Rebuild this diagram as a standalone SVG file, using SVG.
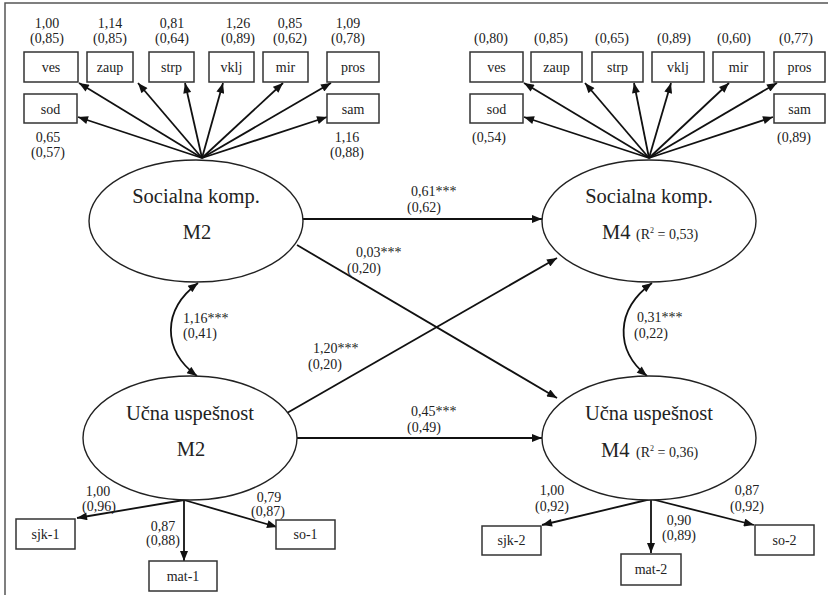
<svg xmlns="http://www.w3.org/2000/svg" width="828" height="595" viewBox="0 0 828 595">
<defs>
<marker id="ah" viewBox="0 0 10 8" refX="10" refY="4" markerWidth="11" markerHeight="8" orient="auto-start-reverse" markerUnits="userSpaceOnUse">
<path d="M0,0 L10,4 L0,8 z" fill="#111"/>
</marker>
<style>
.box{fill:#fff;stroke:#333;stroke-width:1.5}
.ell{fill:#fff;stroke:#222;stroke-width:1.4}
.con{fill:none;stroke:#111;stroke-width:1.8;marker-end:url(#ah)}
.bi{fill:none;stroke:#111;stroke-width:1.8;marker-end:url(#ah);marker-start:url(#ah)}
text{font-family:"Liberation Serif","Times New Roman",serif;fill:#222}
.lb{font-size:14px;text-anchor:middle}
.ls{font-size:14px}
.big{font-size:20.5px;text-anchor:middle}
.bigs{font-size:20.5px}
.frame{stroke:#555;stroke-width:1.5;fill:none}
</style>
</defs>
<rect width="828" height="595" fill="#fff"/>
<path class="frame" d="M5,595 V3 H828"/>

<g id="connectors">
<!-- left fan -->
<line class="con" x1="202" y1="158" x2="79" y2="83"/>
<line class="con" x1="202" y1="158" x2="138" y2="83"/>
<line class="con" x1="202" y1="158" x2="185" y2="83"/>
<line class="con" x1="202" y1="158" x2="223" y2="83"/>
<line class="con" x1="202" y1="158" x2="283" y2="83"/>
<line class="con" x1="202" y1="158" x2="331" y2="83"/>
<line class="con" x1="202" y1="158" x2="78" y2="117"/>
<line class="con" x1="202" y1="158" x2="327" y2="117"/>
<!-- right fan -->
<line class="con" x1="649" y1="158" x2="524" y2="83"/>
<line class="con" x1="649" y1="158" x2="585" y2="83"/>
<line class="con" x1="649" y1="158" x2="634" y2="83"/>
<line class="con" x1="649" y1="158" x2="671" y2="83"/>
<line class="con" x1="649" y1="158" x2="729" y2="83"/>
<line class="con" x1="649" y1="158" x2="777" y2="83"/>
<line class="con" x1="649" y1="158" x2="524" y2="117"/>
<line class="con" x1="649" y1="158" x2="773" y2="117"/>
<!-- structural -->
<line class="con" x1="303" y1="219" x2="542" y2="219"/>
<line class="con" x1="297" y1="245" x2="557" y2="398"/>
<line class="con" x1="287" y1="413" x2="557" y2="258"/>
<line class="con" x1="297" y1="438" x2="542" y2="438"/>
<path class="bi" d="M198,283 C162,310 162,350 197,376"/>
<path class="bi" d="M652,283 C615,310 615,350 647,376"/>
<!-- bottom left -->
<line class="con" x1="184" y1="500" x2="77" y2="518"/>
<line class="con" x1="184" y1="500" x2="184" y2="561"/>
<line class="con" x1="184" y1="500" x2="277" y2="527"/>
<!-- bottom right -->
<line class="con" x1="651" y1="499" x2="542" y2="525"/>
<line class="con" x1="651" y1="499" x2="651" y2="553"/>
<line class="con" x1="651" y1="499" x2="754" y2="525"/>
</g>

<g id="connector-labels">
<text class="lb" x="47" y="28">1,00</text><text class="lb" x="47" y="43">(0,85)</text>
<text class="lb" x="110" y="28">1,14</text><text class="lb" x="110" y="43">(0,85)</text>
<text class="lb" x="172" y="28">0,81</text><text class="lb" x="172" y="43">(0,64)</text>
<text class="lb" x="238" y="28">1,26</text><text class="lb" x="238" y="43">(0,89)</text>
<text class="lb" x="290" y="28">0,85</text><text class="lb" x="290" y="43">(0,62)</text>
<text class="lb" x="348" y="28">1,09</text><text class="lb" x="348" y="43">(0,78)</text>
<text class="lb" x="48" y="142">0,65</text><text class="lb" x="48" y="157">(0,57)</text>
<text class="lb" x="347" y="142">1,16</text><text class="lb" x="347" y="157">(0,88)</text>

<text class="lb" x="491" y="43">(0,80)</text>
<text class="lb" x="551" y="43">(0,85)</text>
<text class="lb" x="612" y="43">(0,65)</text>
<text class="lb" x="674" y="43">(0,89)</text>
<text class="lb" x="734" y="43">(0,60)</text>
<text class="lb" x="796" y="43">(0,77)</text>
<text class="lb" x="489" y="142">(0,54)</text>
<text class="lb" x="794" y="142">(0,89)</text>

<text class="ls" x="411" y="196">0,61***</text><text class="ls" x="407" y="211.5">(0,62)</text>
<text class="ls" x="356" y="257">0,03***</text><text class="ls" x="347" y="273">(0,20)</text>
<text class="ls" x="313" y="353">1,20***</text><text class="ls" x="308" y="369">(0,20)</text>
<text class="ls" x="411" y="416">0,45***</text><text class="ls" x="407" y="432">(0,49)</text>
<text class="ls" x="183" y="323">1,16***</text><text class="ls" x="183" y="338">(0,41)</text>
<text class="ls" x="637" y="322">0,31***</text><text class="ls" x="634" y="338">(0,22)</text>

<text class="lb" x="98" y="496">1,00</text><text class="lb" x="99" y="511">(0,96)</text>
<text class="lb" x="163" y="531">0,87</text><text class="lb" x="163" y="545">(0,88)</text>
<text class="lb" x="269" y="501.5">0,79</text><text class="lb" x="268" y="516">(0,87)</text>
<text class="lb" x="552" y="495">1,00</text><text class="lb" x="552" y="511">(0,92)</text>
<text class="lb" x="679" y="524.5">0,90</text><text class="lb" x="679" y="539.5">(0,89)</text>
<text class="lb" x="747" y="495">0,87</text><text class="lb" x="747" y="511">(0,92)</text>
</g>

<g id="l-ves"><rect class="box" x="24" y="52" width="54" height="30"/><text class="lb" x="51" y="72">ves</text></g>
<g id="l-zaup"><rect class="box" x="87" y="52" width="46" height="30"/><text class="lb" x="110" y="72">zaup</text></g>
<g id="l-strp"><rect class="box" x="149" y="52" width="45" height="30"/><text class="lb" x="171.5" y="72">strp</text></g>
<g id="l-vklj"><rect class="box" x="209" y="52" width="45" height="30"/><text class="lb" x="231.5" y="72">vklj</text></g>
<g id="l-mir"><rect class="box" x="263" y="52" width="45" height="30"/><text class="lb" x="285.5" y="72">mir</text></g>
<g id="l-pros"><rect class="box" x="327" y="52" width="52" height="30"/><text class="lb" x="353" y="72">pros</text></g>
<g id="l-sod"><rect class="box" x="24" y="94" width="53" height="29"/><text class="lb" x="50.5" y="114">sod</text></g>
<g id="l-sam"><rect class="box" x="327" y="94" width="52" height="29"/><text class="lb" x="353" y="114">sam</text></g>

<g id="r-ves"><rect class="box" x="470" y="52" width="53" height="30"/><text class="lb" x="496.5" y="72">ves</text></g>
<g id="r-zaup"><rect class="box" x="531" y="52" width="51" height="30"/><text class="lb" x="556.5" y="72">zaup</text></g>
<g id="r-strp"><rect class="box" x="592" y="52" width="51" height="30"/><text class="lb" x="617.5" y="72">strp</text></g>
<g id="r-vklj"><rect class="box" x="652" y="52" width="52" height="30"/><text class="lb" x="678" y="72">vklj</text></g>
<g id="r-mir"><rect class="box" x="713" y="52" width="51" height="30"/><text class="lb" x="738.5" y="72">mir</text></g>
<g id="r-pros"><rect class="box" x="774" y="52" width="51" height="30"/><text class="lb" x="799.5" y="72">pros</text></g>
<g id="r-sod"><rect class="box" x="470" y="94" width="53" height="29"/><text class="lb" x="496.5" y="114">sod</text></g>
<g id="r-sam"><rect class="box" x="774" y="94" width="51" height="29"/><text class="lb" x="799.5" y="114">sam</text></g>

<g id="sk-m2"><ellipse class="ell" cx="196" cy="221" rx="107" ry="61"/><text class="big" x="196" y="203">Socialna komp.</text><text class="big" x="197" y="239">M2</text></g>
<g id="sk-m4"><ellipse class="ell" cx="649" cy="221" rx="107" ry="61"/><text class="big" x="649" y="203">Socialna komp.</text><text class="bigs" x="602" y="239">M4</text><text class="ls" x="636" y="239">(R<tspan font-size="8" dy="-6">2</tspan><tspan dy="6"> = 0,53)</tspan></text></g>
<g id="uu-m2"><ellipse class="ell" cx="190" cy="438" rx="107" ry="62"/><text class="big" x="190" y="420">Učna uspešnost</text><text class="big" x="191" y="456">M2</text></g>
<g id="uu-m4"><ellipse class="ell" cx="649" cy="438" rx="107" ry="62"/><text class="big" x="649" y="420">Učna uspešnost</text><text class="bigs" x="601" y="456.5">M4</text><text class="ls" x="636" y="456.5">(R<tspan font-size="8" dy="-6">2</tspan><tspan dy="6"> = 0,36)</tspan></text></g>

<g id="sjk-1"><rect class="box" x="16" y="519" width="59" height="30"/><text class="lb" x="45.5" y="539">sjk-1</text></g>
<g id="mat-1"><rect class="box" x="149" y="561" width="68" height="30"/><text class="lb" x="183" y="581">mat-1</text></g>
<g id="so-1"><rect class="box" x="276" y="520" width="59" height="29"/><text class="lb" x="305.5" y="539">so-1</text></g>
<g id="sjk-2"><rect class="box" x="482" y="526" width="59" height="29"/><text class="lb" x="511.5" y="545">sjk-2</text></g>
<g id="mat-2"><rect class="box" x="621" y="554" width="60" height="31"/><text class="lb" x="651" y="574">mat-2</text></g>
<g id="so-2"><rect class="box" x="755" y="525" width="59" height="30"/><text class="lb" x="784.5" y="545">so-2</text></g>
</svg>
